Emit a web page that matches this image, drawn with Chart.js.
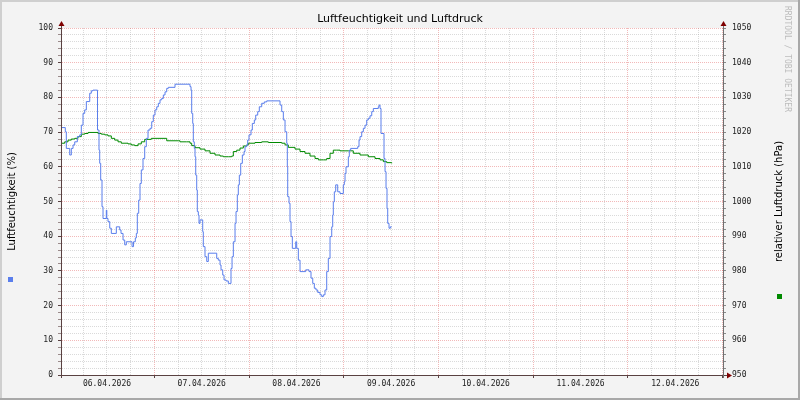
<!DOCTYPE html>
<html>
<head>
<meta charset="utf-8">
<script src="https://cdn.jsdelivr.net/npm/chart.js@4/dist/chart.umd.min.js"></script>
<style>
  body { margin: 0; background: #f3f3f3; }
  canvas { display: block; }
</style>
</head>
<body>
<canvas id="chart" width="800" height="400"></canvas>
<script>
// Data (time = hours since 06.04.2026 00:00)
const dayLabels = ['06.04.2026', '07.04.2026', '08.04.2026', '09.04.2026', '10.04.2026', '11.04.2026', '12.04.2026'];

const humTime = [
  0.35, 0.43, 1.44, 1.70, 2.56, 2.96, 3.40, 3.83, 4.49, 5.09, 5.50, 5.93, 6.36, 6.77, 7.63, 8.03, 8.46,
  9.60, 9.98, 10.16, 10.41, 10.74, 11.00, 11.83, 11.96, 12.26, 12.70, 13.10, 14.37, 15.23, 15.56, 16.07,
  16.50, 16.90, 18.35, 18.73, 19.18, 19.44, 19.69, 20.04, 20.37, 20.70, 21.13, 21.56, 21.97, 22.40,
  22.91, 23.34, 23.74, 24.17, 24.61, 25.01, 25.44, 25.87, 26.28, 26.71, 27.14, 27.55, 29.24, 33.04,
  33.30, 33.47, 33.73, 33.88, 34.13, 34.31, 34.49, 34.74, 34.89, 35.15, 35.32, 35.58, 36.26, 36.41,
  36.84, 37.28, 37.68, 39.81, 40.21, 40.65, 40.90, 41.33, 41.66, 42.17, 42.75, 43.43, 43.69, 44.02,
  44.45, 44.70, 45.03, 45.28, 45.54, 45.89, 46.30, 46.73, 46.98, 47.41, 47.66, 47.99, 48.50, 48.83,
  49.34, 49.69, 50.20, 50.60, 51.21, 51.87, 52.48, 55.85, 56.28, 56.69, 57.12, 57.55, 57.70, 57.80,
  58.13, 58.38, 58.64, 58.97, 59.83, 60.08, 60.49, 60.92, 62.36, 63.20, 63.70, 64.14, 64.54, 64.97,
  65.40, 65.99, 66.42, 66.82, 67.25, 67.68, 68.09, 68.52, 68.95, 69.20, 69.35, 69.61, 69.96, 70.47,
  71.05, 71.89, 72.14, 72.32, 72.57, 73.16, 73.41, 73.76, 75.54, 75.87, 76.12, 76.55, 76.96, 77.39,
  77.82, 78.22, 78.65, 79.09, 79.49, 80.76, 80.94, 81.19, 81.44, 82.20, 82.46, 82.71, 82.96, 83.14,
  83.47, 83.80, 84.15
];
const humValues = [
  68.2, 71.3, 70.1, 65.3, 63.4, 65.3, 66.3, 67.2, 68.7, 69.2, 72.0, 75.4, 76.4, 78.8, 81.2, 81.9, 82.1,
  70.6, 64.8, 61.0, 56.2, 48.5, 45.1, 47.5, 45.1, 44.2, 42.3, 40.8, 42.7, 41.8, 40.8, 38.9,
  37.5, 38.4, 37.0, 38.4, 39.5, 40.8, 46.6, 50.4, 55.2, 59.1, 62.4, 65.8, 68.2, 70.6,
  71.1, 73.0, 74.9, 76.4, 77.3, 78.3, 79.3, 79.7, 80.7, 81.6, 82.6, 82.9, 83.8, 83.1,
  82.1, 75.4, 72.5, 67.2, 65.3, 62.9, 57.6, 53.3, 47.1, 46.1, 43.7, 44.7, 41.3, 37.0,
  34.1, 32.7, 35.1, 33.6, 33.1, 31.7, 30.3, 28.8, 27.4, 27.1, 26.4, 30.7, 34.1, 38.4,
  43.7, 47.1, 51.9, 54.8, 57.6, 61.0, 63.4, 64.4, 65.8, 66.3, 67.7, 69.2, 70.6, 72.5,
  73.5, 74.9, 75.9, 77.3, 78.3, 78.7, 79.0, 77.8, 75.9, 73.5, 70.1, 66.8, 60.0, 51.4,
  49.5, 44.2, 39.9, 36.5, 38.4, 36.5, 33.1, 29.8, 30.3, 29.8, 27.9, 26.4, 25.0, 24.5,
  23.8, 23.1, 22.6, 23.1, 24.5, 29.8, 33.6, 39.9, 42.7, 46.1, 49.9, 52.8, 54.8, 52.8,
  52.3, 54.8, 55.7, 58.1, 60.0, 62.9, 64.8, 65.3, 65.8, 67.7, 68.7, 70.1, 71.1, 72.0,
  73.5, 74.0, 74.7, 75.9, 76.8, 77.3, 77.8, 76.8, 69.6, 62.4, 58.6, 53.8, 48.0, 43.7,
  42.3, 42.7, 42.7
];

const presTime = [
  0.35, 0.43, 1.29, 2.13, 2.96, 3.83, 4.66, 5.50, 6.36, 7.20, 9.73, 10.57, 11.43, 12.26, 13.10, 13.96,
  14.80, 15.63, 17.33, 18.17, 19.03, 19.87, 20.70, 21.56, 23.24, 26.71, 27.14, 30.08, 30.51, 32.21,
  33.04, 33.47, 34.31, 35.58, 36.84, 38.11, 39.38, 40.65, 41.48, 42.75, 43.61, 44.02, 44.88, 45.71,
  46.55, 47.41, 47.81, 49.51, 51.21, 52.88, 56.28, 57.12, 57.95, 59.65, 60.92, 62.18, 63.45, 64.72,
  65.55, 66.82, 67.68, 68.52, 69.35, 70.22, 71.05, 72.32, 73.16, 74.42, 76.12, 78.22, 79.92, 81.19,
  82.03, 82.89, 84.15
];
const presValues = [
  1015.3, 1016.8, 1017.2, 1017.7, 1018.0, 1018.2, 1018.7, 1019.4, 1019.6, 1019.9, 1019.6, 1019.4, 1019.2, 1018.9, 1018.2, 1017.7,
  1017.2, 1016.8, 1016.6, 1016.3, 1016.1, 1016.6, 1017.2, 1017.9, 1018.2, 1018.2, 1017.5, 1017.5, 1017.2, 1017.2,
  1016.8, 1016.1, 1015.5, 1015.1, 1014.6, 1013.9, 1013.4, 1013.1, 1012.9, 1012.9, 1013.1, 1014.4, 1014.8, 1015.4,
  1016.0, 1016.3, 1016.8, 1017.0, 1017.2, 1017.0, 1016.8, 1016.3, 1015.6, 1015.1, 1014.4, 1013.9, 1013.1, 1012.4,
  1012.0, 1012.0, 1012.4, 1013.9, 1014.8, 1014.8, 1014.6, 1014.6, 1014.6, 1013.9, 1013.4, 1012.9, 1012.4, 1012.0,
  1011.5, 1011.2, 1011.0
];

const humColor = '#5a7eec';
const presColor = '#008a00';
const majorGrid = 'rgba(222, 72, 72, 0.38)';
const minorGrid = 'rgba(150, 150, 150, 0.35)';
const axisColor = '#5a4242';
const arrowColor = '#7f0000';

const toPoints = (xs, ys) => xs.map((x, i) => ({ x: x, y: ys[i] }));

// Background, frame, arrows and the RRDtool-like texts
const rrdDecor = {
  id: 'rrdDecor',
  beforeDraw(chart) {
    const { ctx, chartArea: a, width, height } = chart;
    ctx.save();
    ctx.fillStyle = '#f3f3f3';
    ctx.fillRect(0, 0, width, height);
    ctx.fillStyle = '#cfcfcf';
    ctx.fillRect(0, 0, width, 2);
    ctx.fillRect(0, 0, 2, height);
    ctx.fillStyle = '#a8a8a8';
    ctx.fillRect(0, height - 2, width, 2);
    ctx.fillRect(width - 2, 0, 2, height);
    ctx.fillStyle = '#ffffff';
    ctx.fillRect(a.left, a.top, a.right - a.left, a.bottom - a.top);
    ctx.restore();
  },
  afterDraw(chart) {
    const { ctx, chartArea: a } = chart;
    ctx.save();
    // axis extensions
    ctx.strokeStyle = axisColor;
    ctx.lineWidth = 1;
    ctx.beginPath();
    ctx.moveTo(a.left + 0.5, a.top - 4);
    ctx.lineTo(a.left + 0.5, a.bottom + 3);
    ctx.moveTo(a.left - 3, a.bottom + 0.5);
    ctx.lineTo(a.right + 4, a.bottom + 0.5);
    ctx.stroke();
    ctx.strokeStyle = '#707070';
    ctx.beginPath();
    ctx.moveTo(a.right + 0.5, a.top - 4);
    ctx.lineTo(a.right + 0.5, a.bottom + 3);
    ctx.stroke();
    // arrows
    ctx.fillStyle = arrowColor;
    [a.left + 0.5, a.right + 0.5].forEach(x => {
      ctx.beginPath();
      ctx.moveTo(x, a.top - 7);
      ctx.lineTo(x + 3, a.top - 2);
      ctx.lineTo(x - 3, a.top - 2);
      ctx.closePath();
      ctx.fill();
    });
    ctx.beginPath();
    ctx.moveTo(a.right + 9, a.bottom + 0.5);
    ctx.lineTo(a.right + 4, a.bottom - 2.5);
    ctx.lineTo(a.right + 4, a.bottom + 3.5);
    ctx.closePath();
    ctx.fill();

    // title
    ctx.fillStyle = '#000000';
    ctx.font = '11px "DejaVu Sans"';
    ctx.textAlign = 'center';
    ctx.textBaseline = 'middle';
    ctx.fillText('Luftfeuchtigkeit und Luftdruck', 400, 19);

    // axis titles
    const midY = (a.top + a.bottom) / 2;
    ctx.font = '10px "DejaVu Sans"';
    ctx.save();
    ctx.translate(12, midY);
    ctx.rotate(-Math.PI / 2);
    ctx.fillText('Luftfeuchtigkeit (%)', 0, 0);
    ctx.restore();
    ctx.save();
    ctx.translate(779, midY);
    ctx.rotate(-Math.PI / 2);
    ctx.fillText('relativer Luftdruck (hPa)', 0, 0);
    ctx.restore();

    // legend markers
    ctx.fillStyle = humColor;
    ctx.fillRect(8, 277, 5, 5);
    ctx.fillStyle = presColor;
    ctx.fillRect(777, 294, 5, 5);

    // watermark
    ctx.fillStyle = '#bcbcbc';
    ctx.font = '8px "DejaVu Sans Mono"';
    ctx.textAlign = 'left';
    ctx.save();
    ctx.translate(787, 6);
    ctx.rotate(Math.PI / 2);
    ctx.fillText('RRDTOOL / TOBI OETIKER', 0, 0);
    ctx.restore();
    ctx.restore();
  }
};

Chart.defaults.font.family = '"DejaVu Sans Mono"';
Chart.defaults.font.size = 8;
Chart.defaults.color = '#000000';

const ctx = document.getElementById('chart').getContext('2d');
new Chart(ctx, {
  type: 'line',
  data: {
    datasets: [
      {
        label: 'Luftfeuchtigkeit',
        data: toPoints(humTime, humValues),
        yAxisID: 'y',
        borderColor: humColor,
        borderWidth: 1,
        pointRadius: 0,
        stepped: true,
        fill: false,
      },
      {
        label: 'relativer Luftdruck',
        data: toPoints(presTime, presValues),
        yAxisID: 'y1',
        borderColor: presColor,
        borderWidth: 1,
        pointRadius: 0,
        stepped: true,
        fill: false,
      },
    ],
  },
  options: {
    responsive: false,
    animation: false,
    layout: { padding: { top: 28, left: 0, right: 0, bottom: 0 } },
    plugins: {
      legend: { display: false },
      tooltip: { enabled: false },
      title: { display: false },
    },
    scales: {
      x: {
        type: 'linear',
        min: 0.35,
        max: 168.1,
        afterFit: (scale) => { scale.height = 25; },
        border: { color: axisColor, dash: [1, 1] },
        grid: {
          color: (c) => (Math.round(c.tick.value) % 24 === 0 ? majorGrid : minorGrid),
          tickColor: (c) => (Math.round(c.tick.value) % 24 === 0 ? axisColor : 'rgba(0,0,0,0)'),
          tickLength: 3,
        },
        ticks: {
          stepSize: 6,
          includeBounds: false,
          autoSkip: false,
          maxRotation: 0,
          padding: 1,
          color: '#222222',
          callback: (v) => {
            const h = Math.round(v);
            return h % 24 === 12 ? dayLabels[(h - 12) / 24] || '' : '';
          },
        },
      },
      y: {
        position: 'left',
        min: 0,
        max: 100,
        afterFit: (scale) => { scale.width = 61; },
        border: { color: axisColor, dash: [1, 1] },
        grid: {
          color: (c) => (c.tick.value % 10 === 0 ? majorGrid : minorGrid),
          tickColor: (c) => (c.tick.value % 10 === 0 ? axisColor : '#9a8a8a'),
          tickLength: 3,
        },
        ticks: {
          stepSize: 2,
          autoSkip: false,
          padding: 5,
          color: '#222222',
          callback: (v) => (v % 10 === 0 ? v : ''),
        },
      },
      y1: {
        position: 'right',
        min: 950,
        max: 1050,
        afterFit: (scale) => { scale.width = 77; },
        border: { color: '#707070' },
        grid: {
          drawOnChartArea: false,
          tickColor: '#8a8a8a',
          tickLength: 3,
        },
        ticks: {
          stepSize: 2,
          autoSkip: false,
          padding: 6,
          color: '#222222',
          callback: (v) => (v % 10 === 0 ? v : ''),
        },
      },
    },
  },
  plugins: [rrdDecor],
});
</script>
</body>
</html>
